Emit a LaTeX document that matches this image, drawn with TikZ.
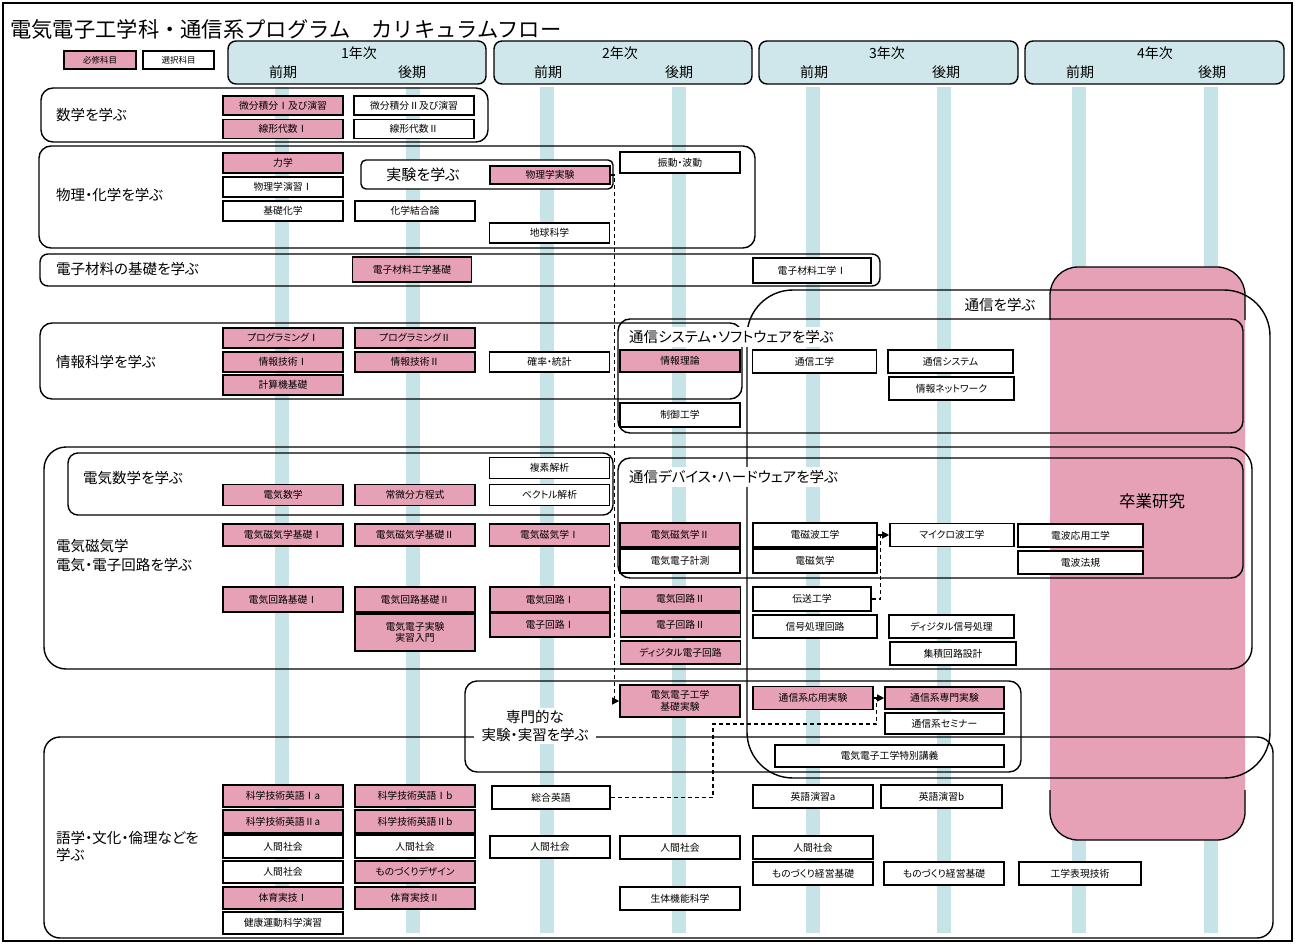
\documentclass[tikz,border=0pt]{standalone}
\usepackage{fontspec}
\setmainfont{Noto Sans CJK JP}[RawFeature=+palt]
\newfontfamily\titlefont{Noto Sans CJK JP}
\usetikzlibrary{arrows.meta,calc}
\definecolor{pk}{RGB}{230,161,182}
\definecolor{hb}{RGB}{207,231,234}
\definecolor{sb}{RGB}{198,227,231}
\begin{document}
\begin{tikzpicture}[x=1pt,y=-1pt,
  rq/.style={draw,line width=1.6pt,fill=pk,minimum width=120pt,minimum height=21pt,inner sep=0pt,font=\fontsize{9.8}{11.5}\selectfont,align=center},
  el/.style={rq,fill=white},
  grp/.style={draw,line width=1.4pt,rounded corners=12pt},
  glab/.style={anchor=west,align=left,inner sep=1pt,font=\fontsize{14.5}{19}\selectfont},
  hdr/.style={draw,line width=1.4pt,fill=hb,rounded corners=8pt},
  htxt/.style={font=\fontsize{14}{16}\selectfont,inner sep=0pt},
  dsh/.style={draw,line width=1.1pt,dash pattern=on 4pt off 3pt},
  arr/.style={draw,line width=1.1pt,-{Triangle[length=7pt,width=7pt]}},
  legend/.style={draw,line width=1.5pt,minimum width=72pt,minimum height=18pt,inner sep=0pt,font=\fontsize{8.5}{10}\selectfont},
]
\useasboundingbox (0,0) rectangle (1295,944);
\fill[white] (0,0) rectangle (1295,944);
\draw[line width=1.2pt] (3,3) rectangle (1292,941);

% stripes
\foreach \x in {282,413,547,679,813,944,1079,1211}
  \fill[sb] (\x-7,87) rectangle (\x+7,933);

% graduation research area
\fill[pk,rounded corners=28pt] (1050,267) rectangle (1245,840);
\draw[line width=1.3pt,rounded corners=28pt] (1050,320) -- (1050,267) -- (1245,267) -- (1245,320);
\draw[line width=1.3pt,rounded corners=28pt] (1050,790) -- (1050,840) -- (1245,840) -- (1245,790);

% title
\node[anchor=west,inner sep=0pt,font=\titlefont\fontsize{21.3}{24}\selectfont] (title) at (10,29) {電気電子工学科・通信系プログラム　カリキュラムフロー};

% legend
\node[legend,fill=pk] (lg1) at (100,60) {必修科目};
\node[legend,fill=white,minimum width=71pt] (lg2) at (178.5,60) {選択科目};

% year headers
\draw[hdr] (228,41) rectangle (486,84);
\draw[hdr] (494,41) rectangle (752,84);
\draw[hdr] (759,41) rectangle (1018,84);
\draw[hdr] (1025,41) rectangle (1284,84);
\node[htxt] (y1) at (359,53) {1年次};
\node[htxt] (y1a) at (283,72) {前期};
\node[htxt] (y1b) at (412,72) {後期};
\node[htxt] (y2) at (620,53) {2年次};
\node[htxt] (y2a) at (548,72) {前期};
\node[htxt] (y2b) at (679,72) {後期};
\node[htxt] (y3) at (887,53) {3年次};
\node[htxt] (y3a) at (814,72) {前期};
\node[htxt] (y3b) at (946,72) {後期};
\node[htxt] (y4) at (1155,53) {4年次};
\node[htxt] (y4a) at (1080,72) {前期};
\node[htxt] (y4b) at (1212,72) {後期};

% groups
\draw[grp] (41,88) rectangle (488,142);
\draw[grp] (39,146) rectangle (755,248);
\draw[grp,rounded corners=5pt,fill=white] (361,160) rectangle (613,189);
\draw[grp,rounded corners=8pt] (40,254) rectangle (880,286);
\draw[grp] (40,323) rectangle (742,399);
\draw[grp,rounded corners=22pt] (44,447) rectangle (1252,669);
\draw[grp,rounded corners=10pt] (68,453) rectangle (613,515);
\draw[grp] (618,319) rectangle (1243,433);
\draw[grp] (618,458) rectangle (1243,578);
\draw[grp] (465,681) rectangle (1021,772);
\draw[grp,rounded corners=16pt] (44,737) rectangle (1273,938);
\draw[grp,rounded corners=46pt] (747,290) rectangle (1270,778);

% group labels
\node[glab] (gm) at (55,115) {数学を学ぶ};
\node[glab] (gp) at (55,195) {物理・化学を学ぶ};
\node[glab] (ge) at (55,269) {電子材料の基礎を学ぶ};
\node[glab] (gi) at (55,362) {情報科学を学ぶ};
\node[glab] (gk) at (82,478) {電気数学を学ぶ};
\node[glab] (gd) at (55,555.5) {電気磁気学\\電気・電子回路を学ぶ};
\node[glab,font=\fontsize{14.5}{17}\selectfont] (gl) at (55,846.5) {語学・文化・倫理などを\\学ぶ};
\node[glab,fill=white,inner sep=3pt] (gs) at (626,337) {通信システム・ソフトウェアを学ぶ};
\node[glab,fill=white,inner sep=3pt] (gh) at (626,477) {通信デバイス・ハードウェアを学ぶ};
\node[font=\fontsize{14.5}{16}\selectfont] (gt) at (1000,305) {通信を学ぶ};
\node[font=\fontsize{16.5}{18}\selectfont] (gg) at (1152,501) {卒業研究};
\node[align=center,fill=white,inner xsep=8pt,inner ysep=2pt,font=\fontsize{14.5}{18}\selectfont] (gx) at (535,726) {専門的な\\実験・実習を学ぶ};
\node[font=\fontsize{15}{16}\selectfont] (gj) at (423,175) {実験を学ぶ};

% math
\node[rq,minimum height=19pt] (m1) at (283,105.5) {微分積分Ⅰ及び演習};
\node[rq,minimum height=19pt] (m2) at (283,129) {線形代数Ⅰ};
\node[el,minimum height=19pt] (m3) at (414,105.5) {微分積分Ⅱ及び演習};
\node[el,minimum height=19pt] (m4) at (414,129) {線形代数Ⅱ};

% physics
\node[rq,minimum height=20pt] (p1) at (283,163) {力学};
\node[el,minimum height=20pt] (p2) at (283,187) {物理学演習Ⅰ};
\node[el,minimum height=20pt] (p3) at (283,211) {基礎化学};
\node[el,minimum height=20pt] (p4) at (415,211) {化学結合論};
\node[rq,minimum height=18pt] (p5) at (550,175) {物理学実験};
\node[el,minimum height=20pt] (p6) at (549.5,233) {地球科学};
\node[el] (p7) at (680,162.5) {振動・波動};

% materials
\node[rq,minimum width=119pt,minimum height=25pt] (e1) at (412,269.5) {電子材料工学基礎};
\node[el,minimum width=118pt,minimum height=25pt] (e2) at (812,270.5) {電子材料工学Ⅰ};

% information
\node[rq,minimum height=20pt] (i1) at (283,338) {プログラミングⅠ};
\node[rq,minimum height=20pt] (i2) at (283,362) {情報技術Ⅰ};
\node[rq,minimum height=20pt] (i3) at (283,385) {計算機基礎};
\node[rq,minimum height=20pt] (i4) at (415,338) {プログラミングⅡ};
\node[rq,minimum height=20pt] (i5) at (415,362) {情報技術Ⅱ};
\node[el,minimum height=20pt] (i6) at (549.5,362) {確率・統計};
\node[rq,minimum height=22pt] (i7) at (680,361) {情報理論};
\node[el,minimum height=24pt] (i8) at (680,415) {制御工学};
\node[el,minimum width=124pt,minimum height=23pt] (i9) at (814.5,361.5) {通信工学};
\node[el,minimum width=125pt,minimum height=23pt] (i10) at (950.5,361.5) {通信システム};
\node[el,minimum width=125pt,minimum height=23pt] (i11) at (951.5,388.5) {情報ネットワーク};

% electrical mathematics
\node[el] (k1) at (549.5,468) {複素解析};
\node[el] (k2) at (549.5,495) {ベクトル解析};
\node[rq] (k3) at (283,495) {電気数学};
\node[rq] (k4) at (415,495) {常微分方程式};

% electromagnetics
\node[rq,minimum height=22pt] (d1) at (283,535) {電気磁気学基礎Ⅰ};
\node[rq,minimum height=22pt] (d2) at (415,535) {電気磁気学基礎Ⅱ};
\node[rq,minimum height=22pt] (d3) at (549.5,535) {電気磁気学Ⅰ};
\node[rq,minimum height=24pt] (d4) at (680,535) {電気磁気学Ⅱ};
\node[el,minimum height=24pt] (d5) at (680,561) {電気電子計測};
\node[el,minimum width=124pt,minimum height=24pt] (d6) at (815,535) {電磁波工学};
\node[el,minimum width=124pt,minimum height=24pt] (d7) at (815,561) {電磁気学};
\node[el,minimum width=124pt,minimum height=23pt] (d8) at (952,535) {マイクロ波工学};
\node[el,minimum width=125pt,minimum height=23pt] (d9) at (1080.5,535.5) {電波応用工学};
\node[el,minimum width=125pt,minimum height=23pt] (d10) at (1080.5,562.5) {電波法規};

% circuits
\node[rq,minimum height=25pt] (r1) at (283,599.5) {電気回路基礎Ⅰ};
\node[rq,minimum height=25pt] (r2) at (415,599.5) {電気回路基礎Ⅱ};
\node[rq,minimum height=37pt] (r3) at (415,632.5) {電気電子実験\\実習入門};
\node[rq,minimum height=25pt] (r4) at (550,599.5) {電気回路Ⅰ};
\node[rq,minimum height=24pt] (r5) at (550,625) {電子回路Ⅰ};
\node[rq,minimum height=24pt] (r6) at (680.5,599) {電気回路Ⅱ};
\node[rq,minimum height=24pt] (r7) at (680.5,625) {電子回路Ⅱ};
\node[rq,minimum height=23pt] (r8) at (680.5,652.5) {ディジタル電子回路};
\node[el,minimum width=118pt,minimum height=24pt] (r9) at (812,599) {伝送工学};
\node[el,minimum width=124pt,minimum height=23pt] (r10) at (815,626.5) {信号処理回路};
\node[el,minimum width=125pt,minimum height=23pt] (r11) at (951.5,626.5) {ディジタル信号処理};
\node[el,minimum width=126pt,minimum height=23pt] (r12) at (953,653.5) {集積回路設計};

% experiments
\node[rq,minimum height=32pt] (x1) at (680,701) {電気電子工学\\基礎実験};
\node[rq,minimum height=23pt] (x2) at (813,698) {通信系応用実験};
\node[rq,minimum width=119pt,minimum height=22pt] (x3) at (944.5,698) {通信系専門実験};
\node[el,minimum width=119pt,minimum height=21pt] (x4) at (944.5,723.5) {通信系セミナー};
\node[el,minimum width=229pt,minimum height=22pt] (x5) at (889.5,756) {電気電子工学特別講義};

% language and culture
\node[rq,minimum height=22pt] (l1) at (283,796) {科学技術英語Ⅰa};
\node[rq,minimum height=23pt] (l2) at (283,821.5) {科学技術英語Ⅱa};
\node[el,minimum height=23pt] (l3) at (283,846.5) {人間社会};
\node[el,minimum height=22pt] (l4) at (283,872) {人間社会};
\node[rq,minimum height=22pt] (l5) at (283,898) {体育実技Ⅰ};
\node[el,minimum height=22pt] (l6) at (283,923) {健康運動科学演習};
\node[rq,minimum height=22pt] (l7) at (415,796) {科学技術英語Ⅰb};
\node[rq,minimum height=23pt] (l8) at (415,821.5) {科学技術英語Ⅱb};
\node[el,minimum height=23pt] (l9) at (415,846.5) {人間社会};
\node[rq,minimum height=22pt] (l10) at (415,872) {ものづくりデザイン};
\node[rq,minimum height=22pt] (l11) at (415,898) {体育実技Ⅱ};
\node[el,minimum width=118pt,minimum height=23pt] (l12) at (551,797.5) {総合英語};
\node[el,minimum height=22pt] (l13) at (550,847) {人間社会};
\node[el,minimum height=23pt] (l14) at (680,847.5) {人間社会};
\node[el,minimum height=23pt] (l15) at (680,898.5) {生体機能科学};
\node[el,minimum height=23pt] (l16) at (813,796.5) {英語演習a};
\node[el,minimum width=121pt,minimum height=23pt] (l17) at (941.5,796.5) {英語演習b};
\node[el,minimum height=23pt] (l18) at (813,847.5) {人間社会};
\node[el,minimum height=23pt] (l19) at (813,873.5) {ものづくり経営基礎};
\node[el,minimum height=23pt] (l20) at (944,873.5) {ものづくり経営基礎};
\node[el,minimum width=122pt,minimum height=23pt] (l21) at (1080,873.5) {工学表現技術};

% connectors
\draw[dsh] (p5.east) -- ++(4,0) coordinate (t1) -- (t1 |- x1.west);
\draw[arr] (t1 |- x1.west) -- (x1.west);
\path (d6.east) -- (d8.west) coordinate[pos=0.25] (j1);
\draw[dsh] (r9.east) -| (j1);
\draw[arr] (d6.east) -- (d8.west);
\path (x2.east) -- (x3.west) coordinate[pos=0.3] (j2);
\coordinate (bend) at (713,724);
\draw[dsh] (l12.east) -| (bend) -| (j2);
\draw[arr] (x2.east) -- (x3.west);
\end{tikzpicture}
\end{document}
